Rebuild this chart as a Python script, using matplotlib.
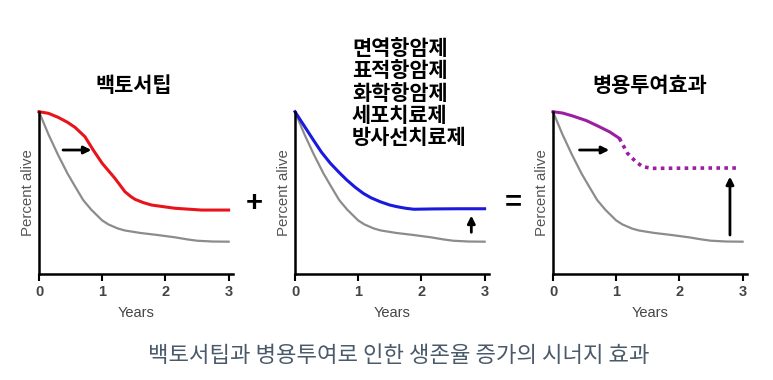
import matplotlib.pyplot as plt

# data
years = [0, 1, 2, 3]

gray_x = [0, 0.15, 0.3, 0.45, 0.57, 0.7, 0.83, 1.0, 1.1, 1.25, 1.36, 1.6, 1.88, 2.15, 2.35, 2.5, 2.75, 3]
gray_y = [100, 86, 73.5, 62, 54, 45.5, 39.5, 33, 30.5, 28, 26.8, 25.3, 24, 22.6, 21.3, 20.5, 20, 19.9]

red_x = [0, 0.15, 0.305, 0.45, 0.569, 0.727, 0.858, 1.0, 1.2, 1.36, 1.45, 1.52, 1.65, 1.78, 2.15, 2.57, 3.0]
red_y = [100, 99, 96.5, 93.5, 90.4, 84.6, 76.4, 68.2, 59, 50.7, 47.8, 46, 44, 42.5, 40.5, 39.4, 39.4]

blue_x = [0, 0.15, 0.29, 0.42, 0.56, 0.7, 0.82, 0.95, 1.08, 1.2, 1.35, 1.5, 1.61, 1.75, 1.88, 2.2, 2.6, 3.0]
blue_y = [100, 91, 82.6, 75, 68.2, 62.5, 57.9, 53.5, 49.7, 47, 44.5, 42.5, 41.5, 40.5, 39.9, 40.1, 40.2, 40.2]

purple_x = [0, 0.15, 0.31, 0.53, 0.73, 0.9, 1.05]
purple_y = [100, 99.2, 97.4, 94.5, 90.8, 87.5, 83.6]
purple_dot_x = [1.05, 1.18, 1.31, 1.42, 1.57, 2.0, 2.5, 2.92]
purple_dot_y = [83.6, 74.3, 69.2, 66.1, 65.1, 65.2, 65.3, 65.3]

titles = ['백토서팁', '면역항암제\n표적항암제\n화학항암제\n세포치료제\n방사선치료제', '병용투여효과']
caption = '백토서팁과 병용투여로 인한 생존율 증가의 시너지 효과'

kfont = ['Noto Sans CJK KR', 'DejaVu Sans']
lfont = ['Liberation Sans', 'DejaVu Sans']

fig = plt.figure(figsize=(7.73, 3.8), dpi=100)

lefts = [39 / 773, 295 / 773, 553 / 773]
axes = []
for left in lefts:
    ax = fig.add_axes([left, 0.279, 0.251, 0.427])
    ax.set_xlim(0, 3.07)
    ax.set_ylim(0, 100)
    ax.spines['top'].set_visible(False)
    ax.spines['right'].set_visible(False)
    ax.spines['left'].set_linewidth(1.8)
    ax.spines['bottom'].set_linewidth(1.8)
    ax.set_yticks([])
    ax.set_xticks(years)
    ax.set_xticklabels([str(y) for y in years], family=lfont, fontsize=10.5,
                       fontweight='bold', color='#444444')
    ax.tick_params(axis='x', direction='out', length=5, width=1.5, pad=3)
    ax.set_xlabel('Years', family=lfont, fontsize=10.5, color='#444444', labelpad=5)
    ax.set_ylabel('Percent alive', family=lfont, fontsize=10.8, color='#555555', labelpad=3)
    ax.plot(gray_x, gray_y, color='#8c8c8c', lw=1.6, clip_on=False)
    axes.append(ax)

ax1, ax2, ax3 = axes

ax1.plot(red_x, red_y, color='#e8141b', lw=2.2, clip_on=False)
ax2.plot(blue_x, blue_y, color='#1a1adc', lw=2.2, clip_on=False)
ax3.plot(purple_x, purple_y, color='#9b1fa0', lw=2.2, clip_on=False)
ax3.plot(purple_dot_x, purple_dot_y, color='#9b1fa0', lw=2.6,
         linestyle=(0, (1, 1.2)), dash_capstyle='butt', clip_on=False)

arrow = dict(arrowstyle='-|>', color='black', lw=2, mutation_scale=11, shrinkA=0, shrinkB=0)
ax1.annotate('', xy=(0.83, 76.4), xytext=(0.38, 76.4), arrowprops=arrow)
ax2.annotate('', xy=(2.79, 36), xytext=(2.79, 25.7), arrowprops=arrow)
ax3.annotate('', xy=(0.89, 76.4), xytext=(0.42, 76.4), arrowprops=arrow)
ax3.annotate('', xy=(2.8, 60), xytext=(2.8, 24), arrowprops=arrow)

# titles
fig.text(134 / 773, 1 - 86 / 380, titles[0], family=kfont, fontsize=15,
         fontweight='bold', ha='center', va='center')
fig.text(352 / 773, 1 - 93 / 380, titles[1], family=kfont, fontsize=15,
         fontweight='bold', ha='left', va='center', linespacing=1.08)
fig.text(650 / 773, 1 - 86 / 380, titles[2], family=kfont, fontsize=15,
         fontweight='bold', ha='center', va='center')

fig.text(254 / 773, 1 - 203 / 380, '+', family=lfont, fontsize=21, fontweight='bold',
         ha='center', va='center')
fig.text(513 / 773, 1 - 202 / 380, '=', family=lfont, fontsize=21, fontweight='bold',
         ha='center', va='center')

fig.text(399 / 773, 1 - 355 / 380, caption, family=kfont, fontsize=16,
         color='#4a5a6a', ha='center', va='center')

fig.savefig('out.png', dpi=100)
